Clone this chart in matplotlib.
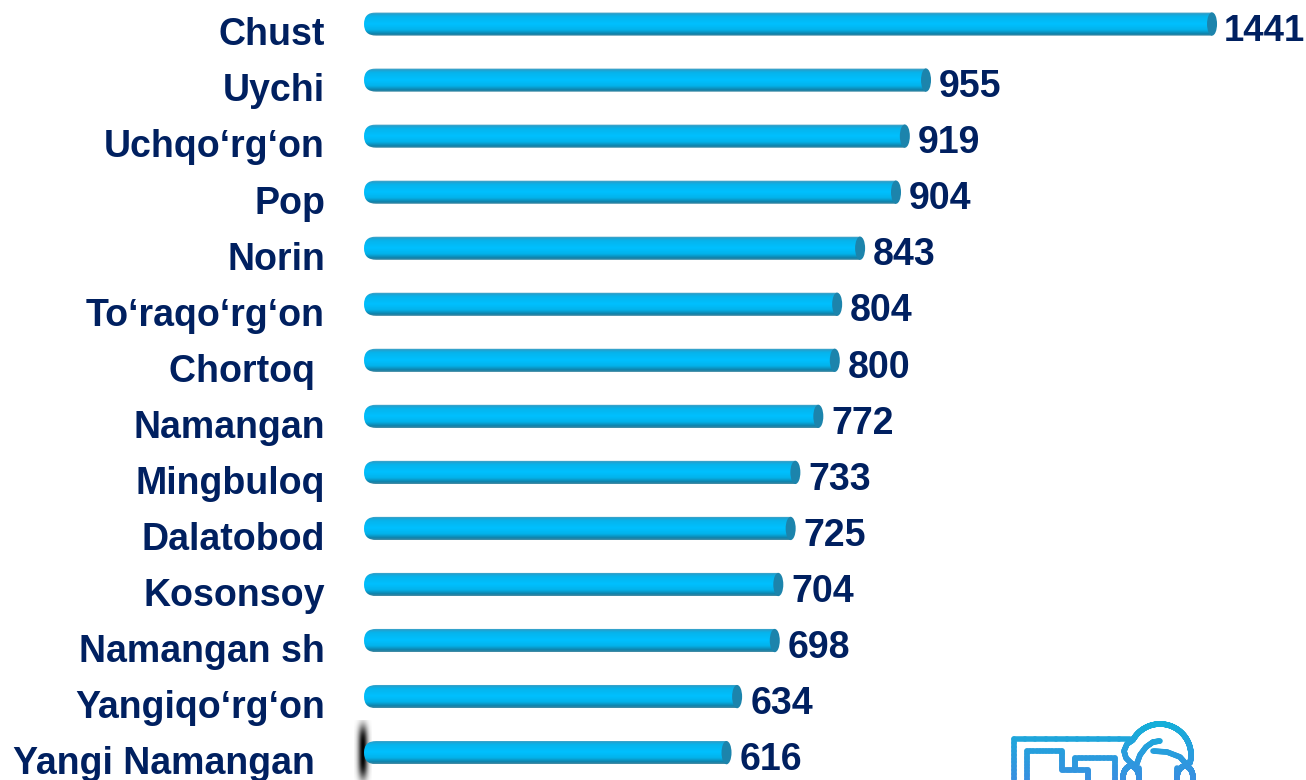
import matplotlib as mlp
mlp.use('Agg')
from matplotlib import pyplot as plt
from matplotlib.path import Path
from matplotlib.patches import PathPatch, Ellipse
from matplotlib.colors import LinearSegmentedColormap
import numpy as np

districts = ['Chust', 'Uychi', 'Uchqo‘rg‘on', 'Pop', 'Norin', 'To‘raqo‘rg‘on', 'Chortoq ',
             'Namangan', 'Mingbuloq', 'Dalatobod', 'Kosonsoy', 'Namangan sh',
             'Yangiqo‘rg‘on', 'Yangi Namangan ']
values = [1441, 955, 919, 904, 843, 804, 800, 772, 733, 725, 704, 698, 634, 616]

W, H = 1306, 780
x0, xs = 364.0, 0.5885    # pixel of value 0, pixels per unit
y0, ys = 24.0, 56.05      # pixel of first bar, pixels per row
bar_h = 0.415
navy = '#002060'

plt.rcParams['font.family'] = ['Liberation Sans', 'DejaVu Sans']
fig = plt.figure(figsize=(W / 100, H / 100), dpi=100)
ax = fig.add_axes([0, 0, 1, 1], zorder=2)
ax.axis('off')

bar_cmap = LinearSegmentedColormap.from_list('bar', [
    (0.0, '#b8d4de'), (0.05, '#2a9cc8'), (0.18, '#06b4ec'), (0.5, '#00c0ff'),
    (0.75, '#03b2ea'), (0.92, '#1080a8'), (1.0, '#4a8ea6')])
grad = np.linspace(0, 1, 64).reshape(-1, 1)

for i, v in enumerate(values):
    r = 12 / xs
    top, bot = i - bar_h / 2, i + bar_h / 2
    k = bar_h / 2
    verts = [(v, top), (r, top), (0, top), (0, top + k), (0, bot),
             (r, bot), (v, bot), (v, top)]
    codes = [Path.MOVETO, Path.LINETO, Path.CURVE3, Path.CURVE3, Path.CURVE3, Path.CURVE3,
             Path.LINETO, Path.CLOSEPOLY]
    patch = PathPatch(Path(verts, codes), fc='none', ec='none', transform=ax.transData)
    ax.add_patch(patch)
    im = ax.imshow(grad, cmap=bar_cmap, extent=(0, v, bot, top), aspect='auto',
                   interpolation='bilinear', zorder=2)
    im.set_clip_path(patch)
    ax.add_patch(Ellipse((v, i), 10 / xs, bot - top, fc='#1c84ac', ec='none', zorder=3))
    # the four digit label has to stay inside the right edge
    long_label = v >= 1000
    ax.annotate(str(v), (v, i), xytext=(8.2 if long_label else 9.4, -5.2), textcoords='offset points',
                ha='left', va='center', fontsize=26.4 if long_label else 27, fontweight='bold',
                color=navy, zorder=4)
    ax.annotate(districts[i], (0, i), xytext=(-28.1, -8.2), textcoords='offset points', ha='right',
                va='center', fontsize=27, fontweight='bold', color=navy, zorder=4)

ax.set_xlim(-x0 / xs, (W - x0) / xs)
ax.set_ylim((H - y0) / ys, -y0 / ys)

# overlay in pixels for the shadow and the corner icon, sits under the bars
ov = fig.add_axes([0, 0, 1, 1], zorder=1)
ov.axis('off')

shadow = np.exp(-((np.linspace(-1, 1, 40)) / 0.55) ** 2)[None, :] * np.exp(-(np.linspace(-1, 1, 60)[:, None] / 0.85) ** 4)
rgba = np.zeros(shadow.shape + (4,))
rgba[..., 3] = shadow
ov.imshow(rgba, extent=(354, 372, 784, 720), aspect='auto', zorder=1, interpolation='bilinear')


def icon_line(xs_, ys_, lw=4.0):
    px, py = [], []
    for a, b, c, d in zip(xs_[:-1], ys_[:-1], xs_[1:], ys_[1:]):
        px += list(np.linspace(a, c, 12))
        py += list(np.linspace(b, d, 12))
    for j in range(len(px) - 1):
        t = np.clip((py[j] - 722) / 58, 0, 1)
        col = (0.08 + 0.14 * t, 0.69 - 0.13 * t, 0.85 + 0.03 * t)
        ov.plot(px[j:j + 2], py[j:j + 2], color=col, lw=lw, solid_capstyle='round', zorder=5)


def icon_oval(cx, cy, rx, ry):
    a = np.linspace(0, 2 * np.pi, 40)
    icon_line(list(cx + rx * np.cos(a)), list(cy + ry * np.sin(a)))


icon_line([1014, 1014, 1130], [782, 739, 739])
icon_line([1027, 1027, 1062, 1062, 1088, 1088], [782, 751, 751, 770, 770, 782])
icon_line([1075, 1075, 1115, 1115], [770, 758, 758, 782])
a = np.radians(np.linspace(210, 375, 40))
icon_line(list(1160 + 31 * np.cos(a)), list(755 + 31 * np.sin(a)))
icon_line([1133, 1127, 1124, 1126, 1131, 1136], [740, 744, 751, 758, 763, 766])
icon_line([1160, 1153, 1146, 1140, 1136], [741, 742, 747, 755, 766])
icon_line([1153, 1167, 1180, 1187], [751, 752, 757, 765])
icon_oval(1131, 778, 8, 12)
icon_oval(1185, 778, 8, 12)
icon_line([1139, 1139], [768, 782])
icon_line([1177, 1177], [768, 782])

ov.set_xlim(0, W)
ov.set_ylim(H, 0)

plt.savefig('out.png', dpi=100)
